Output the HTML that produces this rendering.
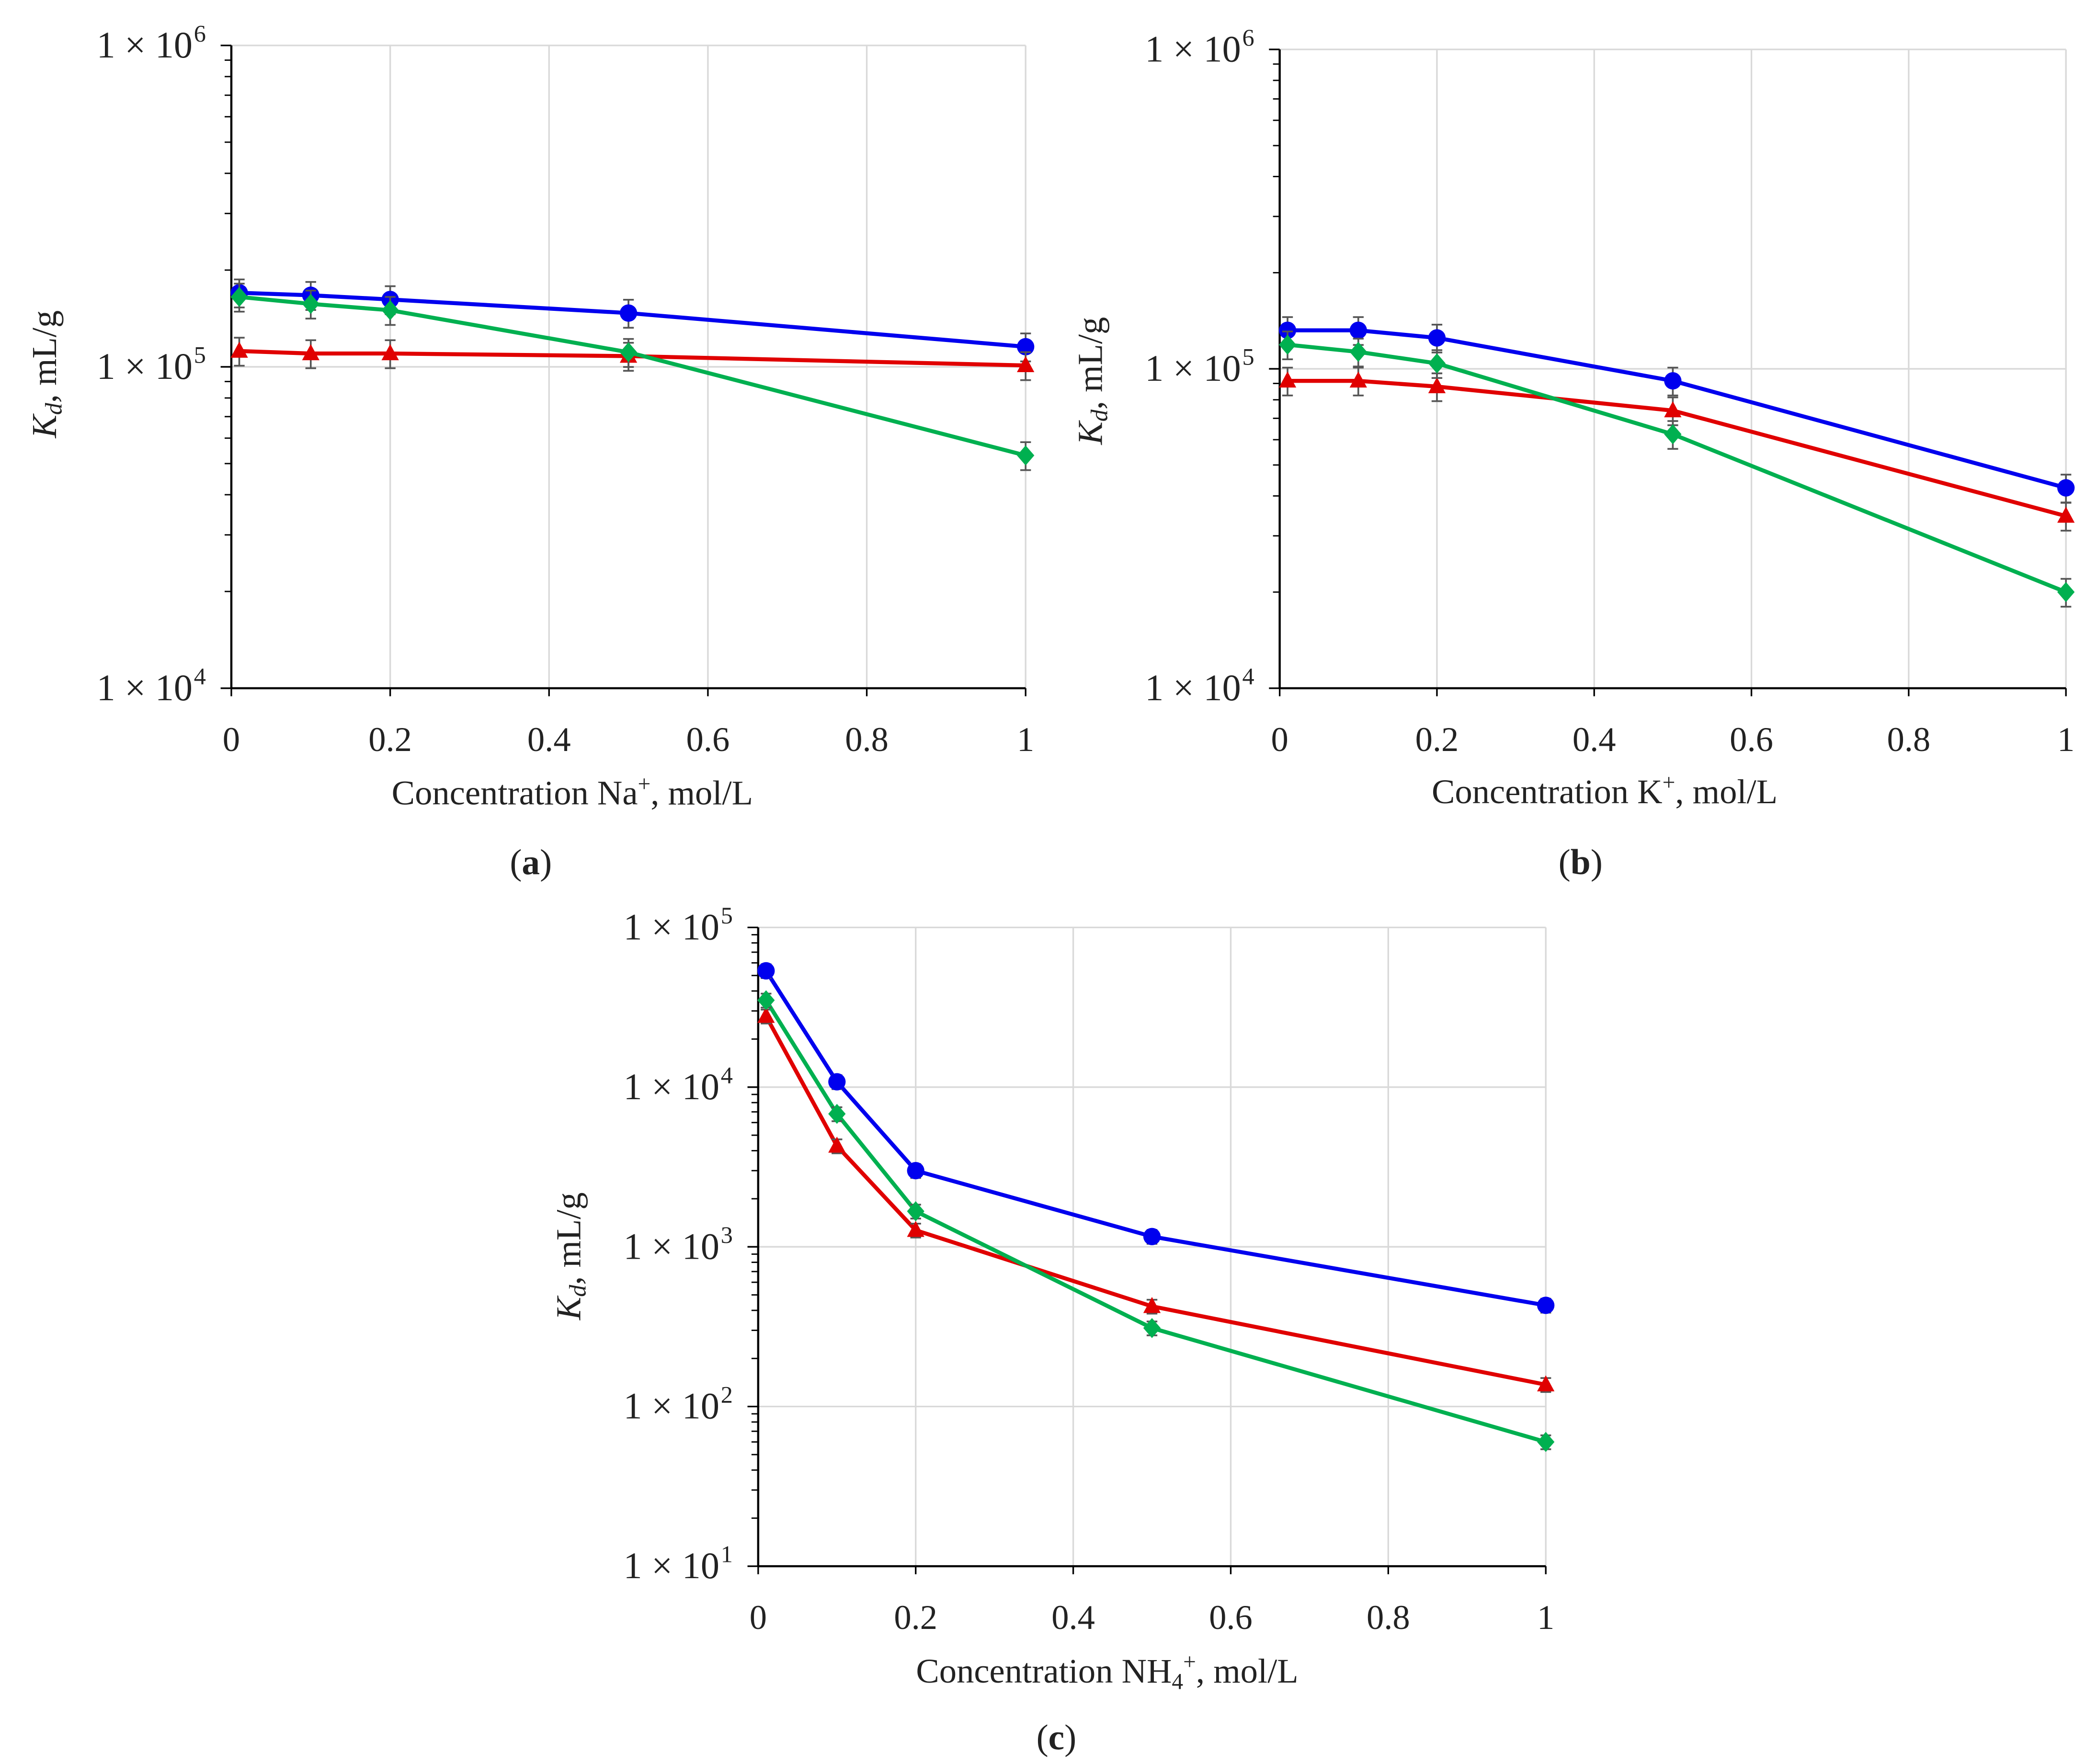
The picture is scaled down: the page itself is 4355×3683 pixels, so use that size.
<!DOCTYPE html>
<html><head><meta charset="utf-8">
<style>
html,body{margin:0;padding:0;background:#fff;}
svg{display:block;}
text{font-family:"Liberation Serif",serif;fill:#222;}
</style></head>
<body>
<svg id="chart" width="4355" height="3683" viewBox="0 0 1560 1320" preserveAspectRatio="none" xmlns="http://www.w3.org/2000/svg"></svg>
<script>
const xVals = [0.01, 0.1, 0.2, 0.5, 1];
const xTicks = [0, 0.2, 0.4, 0.6, 0.8, 1];
const xTickLabels = ["0", "0.2", "0.4", "0.6", "0.8", "1"];
const aBlue = [1.70e5, 1.67e5, 1.62e5, 1.47e5, 1.155e5];
const aRed = [1.12e5, 1.10e5, 1.10e5, 1.08e5, 1.01e5];
const aGreen = [1.65e5, 1.57e5, 1.50e5, 1.11e5, 0.53e5];
const bBlue = [1.32e5, 1.32e5, 1.25e5, 0.917e5, 0.424e5];
const bRed = [0.917e5, 0.917e5, 0.88e5, 0.74e5, 0.346e5];
const bGreen = [1.19e5, 1.13e5, 1.04e5, 0.624e5, 0.20e5];
const cBlue = [5.35e4, 1.08e4, 3.0e3, 1.16e3, 4.3e2];
const cRed = [2.78e4, 4.28e3, 1.27e3, 4.24e2, 1.37e2];
const cGreen = [3.5e4, 6.8e3, 1.67e3, 3.1e2, 6.0e1];
const errFrac = 0.1;

const NS = "http://www.w3.org/2000/svg";
const svg = document.getElementById("chart");
function mk(tag, attrs, parent) {
  const e = document.createElementNS(NS, tag);
  for (const k in attrs) e.setAttribute(k, attrs[k]);
  (parent || svg).appendChild(e);
  return e;
}

const panels = [
  {id:"a", x0:173, x1:767, yTop:34, yBot:515, dMin:4, dMax:6, series:[aBlue,aRed,aGreen], ion:"Na", sub:"", xt:428, xty:602, cap:[397,645], ytx:33, yty:280},
  {id:"b", x0:957, x1:1545, yTop:37, yBot:515, dMin:4, dMax:6, series:[bBlue,bRed,bGreen], ion:"K", sub:"", xt:1200, xty:601, cap:[1182,645], ytx:815, yty:285},
  {id:"c", x0:567, x1:1156, yTop:694, yBot:1172, dMin:1, dMax:5, series:[cBlue,cRed,cGreen], ion:"NH", sub:"4", xt:828, xty:1259, cap:[790,1300], ytx:425, yty:940}
];
const colors = ["#0000ee", "#e00000", "#00b050"];
const shapes = ["circle", "triangle", "diamond"];
const names = ["blue", "red", "green"];

panels.forEach(p => {
  const g = mk("g", {});
  
  
  const xs = v => p.x0 + (p.x1 - p.x0) * v;
  const ys = v => p.yBot - (Math.log10(v) - p.dMin) / (p.dMax - p.dMin) * (p.yBot - p.yTop);
  xTicks.forEach(t => { if (t > 0) mk("line", {x1:xs(t), x2:xs(t), y1:p.yTop, y2:p.yBot, stroke:"#d9d9d9", "stroke-width":1.2}, g); });
  for (let d = p.dMin + 1; d <= p.dMax; d++) mk("line", {x1:p.x0, x2:p.x1, y1:ys(Math.pow(10,d)), y2:ys(Math.pow(10,d)), stroke:"#d9d9d9", "stroke-width":1.2}, g);
  mk("line", {x1:p.x0, x2:p.x0, y1:p.yTop, y2:p.yBot, stroke:"#000", "stroke-width":1.6}, g);
  mk("line", {x1:p.x0, x2:p.x1, y1:p.yBot, y2:p.yBot, stroke:"#000", "stroke-width":1.6}, g);
  xTicks.forEach((t, i) => {
    mk("line", {x1:xs(t), x2:xs(t), y1:p.yBot, y2:p.yBot + 6, stroke:"#000", "stroke-width":1.2}, g);
    const tx = mk("text", {x:xs(t), y:p.yBot + 47, "font-size":26, "text-anchor":"middle"}, g);
    tx.textContent = xTickLabels[i];
    
    
  });
  for (let d = p.dMin; d <= p.dMax; d++) {
    mk("line", {x1:p.x0 - 8, x2:p.x0, y1:ys(Math.pow(10,d)), y2:ys(Math.pow(10,d)), stroke:"#000", "stroke-width":1.2}, g);
    if (d < p.dMax) for (let m = 2; m <= 9; m++) mk("line", {x1:p.x0 - 5, x2:p.x0, y1:ys(m*Math.pow(10,d)), y2:ys(m*Math.pow(10,d)), stroke:"#000", "stroke-width":1}, g);
    const tl = mk("text", {x:p.x0 - 29, y:ys(Math.pow(10,d)) + 9, "font-size":28, "text-anchor":"end"}, g);
    tl.innerHTML = '1 × 10';
    
    
    const sp = mk("text", {x:p.x0 - 28, y:ys(Math.pow(10,d)) - 3, "font-size":18, "text-anchor":"start"}, g);
    sp.textContent = String(d);
  }
  const yt = mk("text", {x:p.ytx, y:p.yty, "font-size":26, "text-anchor":"middle", transform:`rotate(-90 ${p.ytx} ${p.yty})`, dy:9}, g);
  yt.innerHTML = '<tspan font-style="italic">K</tspan><tspan font-style="italic" font-size="18" dy="4">d</tspan><tspan dy="-4">, mL/g</tspan>';
  
  
  const xt = mk("text", {x:p.xt, y:p.xty, "font-size":26, "text-anchor":"middle"}, g);
  xt.innerHTML = 'Concentration  ' + p.ion + (p.sub ? '<tspan font-size="17" dy="5">' + p.sub + '</tspan><tspan font-size="17" dy="-15">+</tspan><tspan dy="10">, mol/L</tspan>' : '<tspan font-size="17" dy="-10">+</tspan><tspan dy="10">, mol/L</tspan>');
  
  
  const cp = mk("text", {x:p.cap[0], y:p.cap[1] + 9, "font-size":27, "text-anchor":"middle"}, g);
  cp.innerHTML = '(<tspan font-weight="bold">' + p.id + '</tspan>)';
  
  
  p.series.forEach((vals, si) => {
    const sg = mk("g", {}, g);
    
    
    const pts = vals.map((v, i) => xs(xVals[i]) + "," + ys(v)).join(" ");
    mk("polyline", {points:pts, fill:"none", stroke:colors[si], "stroke-width":3}, sg);
    vals.forEach((v, i) => {
      const cx = xs(xVals[i]), hi = ys(v * (1 + errFrac)), lo = ys(v * (1 - errFrac));
      mk("line", {x1:cx, x2:cx, y1:hi, y2:lo, stroke:"#555", "stroke-width":1.3}, sg);
      mk("line", {x1:cx-4, x2:cx+4, y1:hi, y2:hi, stroke:"#555", "stroke-width":1.3}, sg);
      mk("line", {x1:cx-4, x2:cx+4, y1:lo, y2:lo, stroke:"#555", "stroke-width":1.3}, sg);
      const cy = ys(v);
      let m;
      if (shapes[si] === "circle") m = mk("circle", {cx:cx, cy:cy, r:6.5, fill:colors[si]}, sg);
      else if (shapes[si] === "triangle") m = mk("polygon", {points:`${cx},${cy-7} ${cx-6.5},${cy+5} ${cx+6.5},${cy+5}`, fill:colors[si]}, sg);
      else m = mk("polygon", {points:`${cx},${cy-7.5} ${cx+6.5},${cy} ${cx},${cy+7.5} ${cx-6.5},${cy}`, fill:colors[si]}, sg);
      
      
    });
  });
});
</script>
</body></html>
